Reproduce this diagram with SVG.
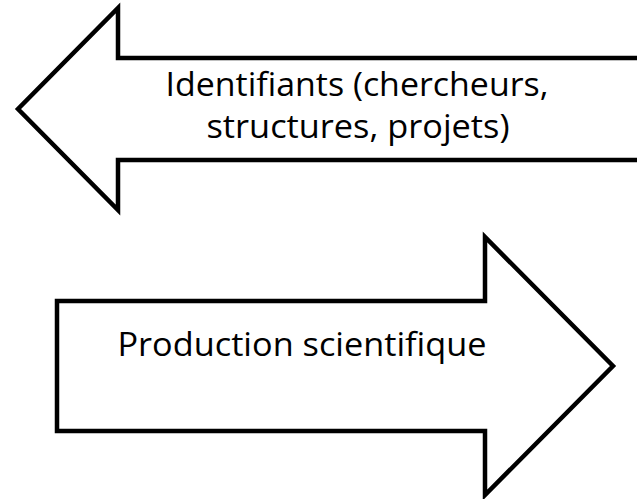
<svg xmlns="http://www.w3.org/2000/svg" width="637" height="499" viewBox="0 0 637 499">
<style>
.arrow{fill:#fff;stroke:#000;stroke-width:4.5;stroke-linejoin:miter}
.lbl{font-family:"Open Sans","Liberation Sans",sans-serif;font-size:32px;fill:#000;text-anchor:middle}
</style>
<rect width="637" height="499" fill="#fff"/>
<g id="arrow-identifiants">
<polygon class="arrow" points="645,58 118,58 118,8 18,109 118,210 118,160 645,160"/>
<text class="lbl" x="357" y="96" textLength="383" lengthAdjust="spacingAndGlyphs">Identifiants (chercheurs,</text>
<text class="lbl" x="358" y="138" textLength="303" lengthAdjust="spacingAndGlyphs">structures, projets)</text>
</g>
<g id="arrow-production">
<polygon class="arrow" points="57,301 485,301 485,237 613,366 485,495 485,431 57,431"/>
<text class="lbl" x="302" y="356" textLength="369" lengthAdjust="spacingAndGlyphs">Production scientifique</text>
</g>
<g id="connectors"/>
</svg>
